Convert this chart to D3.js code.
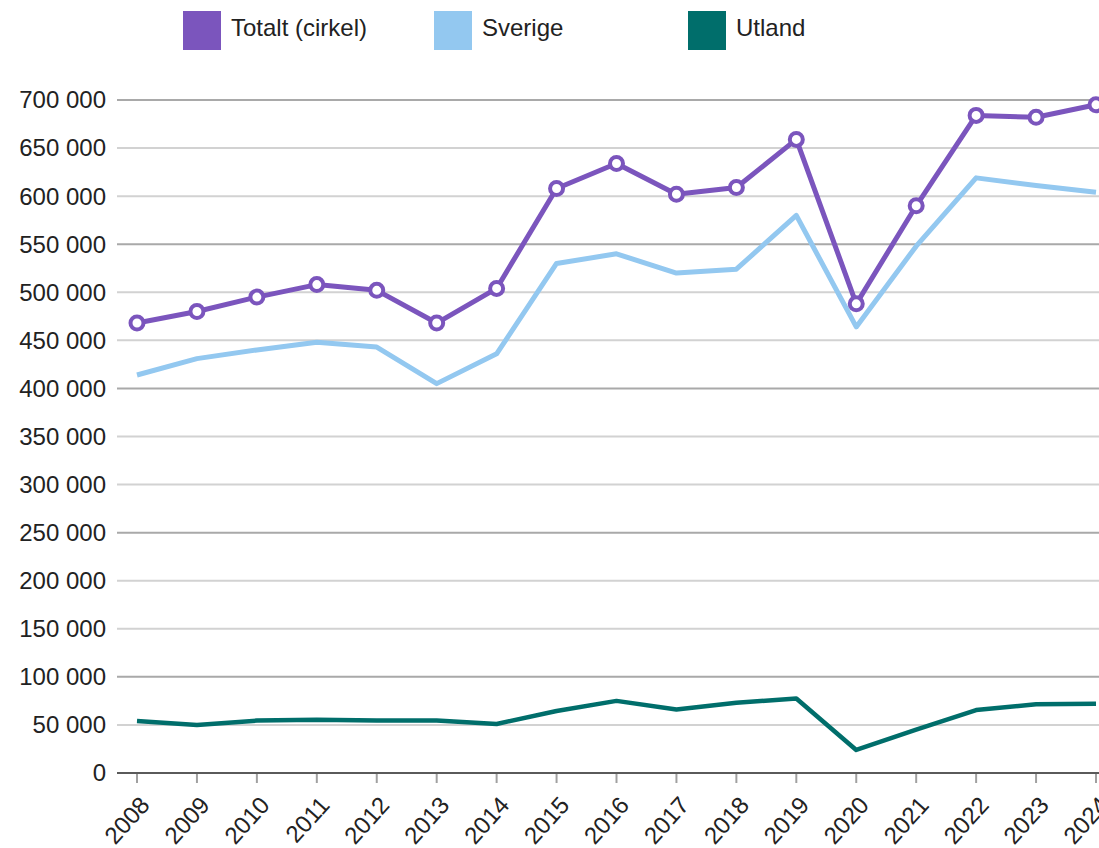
<!DOCTYPE html>
<html>
<head>
<meta charset="utf-8">
<script src="https://cdn.jsdelivr.net/npm/d3@7"></script>
<style>
  body { margin: 0; background: #fff; }
  text { font-family: "Liberation Sans", Arial, sans-serif; fill: #222; }
</style>
</head>
<body>
<div id="chart"></div>
<script>
var years = [2008, 2009, 2010, 2011, 2012, 2013, 2014, 2015, 2016, 2017, 2018, 2019, 2020, 2021, 2022, 2023, 2024];
var totalt = [468000, 480000, 495000, 508000, 502000, 468000, 504000, 608000, 634000, 602000, 609000, 659000, 488000, 590000, 684000, 682000, 695000];
var sverige = [414000, 431000, 440000, 448000, 443000, 405000, 436000, 530000, 540000, 520000, 524000, 580000, 464000, 548000, 619000, 611000, 604000];
var utland = [54000, 50000, 54500, 55500, 54500, 54500, 51000, 64500, 75000, 66000, 73000, 77500, 24000, 45000, 65500, 71500, 72000];
var yTicks = [0, 50000, 100000, 150000, 200000, 250000, 300000, 350000, 400000, 450000, 500000, 550000, 600000, 650000, 700000];
var legendItems = [
    {name: "Totalt (cirkel)", color: "#7b55bd", x: 183},
    {name: "Sverige", color: "#93c8f0", x: 434},
    {name: "Utland", color: "#006e6b", x: 688}
];

(function(){
    var width = 1099;
    var height = 848;

    var svg = d3.select("#chart")
        .append("svg")
        .attr("width", width)
        .attr("height", height)

    var x = d3.scaleLinear().domain([2008, 2024]).range([137, 1096])
    var y = d3.scaleLinear().domain([0, 700000]).range([773, 100])

    var fmt = function(v){
        return d3.format(",")(v).replace(/,/g, " ")
    }

    // grid
    svg.append("g")
        .selectAll("line")
        .data(yTicks.filter(function(d){ return d > 0 }))
        .enter().append("line")
        .attr("x1", 117)
        .attr("x2", width)
        .attr("y1", function(d){ return y(d) })
        .attr("y2", function(d){ return y(d) })
        .attr("stroke", function(d){ return (d / 50000) % 3 == 2 ? "#a9a9a9" : "#d2d2d2" })
        .attr("stroke-width", 2)

    // y labels
    svg.append("g")
        .selectAll("text")
        .data(yTicks)
        .enter().append("text")
        .attr("x", 106)
        .attr("y", function(d){ return y(d) })
        .attr("dy", "0.35em")
        .attr("text-anchor", "end")
        .attr("font-size", 24)
        .text(fmt)

    // x axis
    svg.append("line")
        .attr("x1", 117)
        .attr("x2", width)
        .attr("y1", y(0))
        .attr("y2", y(0))
        .attr("stroke", "#5a5a5a")
        .attr("stroke-width", 2)

    svg.append("g")
        .selectAll("line")
        .data(years)
        .enter().append("line")
        .attr("x1", function(d){ return x(d) })
        .attr("x2", function(d){ return x(d) })
        .attr("y1", y(0) + 1)
        .attr("y2", y(0) + 10)
        .attr("stroke", "#a0a0a0")
        .attr("stroke-width", 2)

    svg.append("g")
        .selectAll("text")
        .data(years)
        .enter().append("text")
        .attr("transform", function(d){
            return "translate(" + (x(d) + 14) + "," + (y(0) + 33) + ") rotate(-48)"
        })
        .attr("text-anchor", "end")
        .attr("font-size", 24)
        .text(function(d){ return d })

    // lines
    var line = function(values){
        return d3.line()
            .x(function(d, i){ return x(years[i]) })
            .y(function(d){ return y(d) })(values)
    }

    svg.append("path")
        .attr("d", line(utland))
        .attr("fill", "none")
        .attr("stroke", legendItems[2].color)
        .attr("stroke-width", 4.5)
        .attr("stroke-linejoin", "round")

    svg.append("path")
        .attr("d", line(sverige))
        .attr("fill", "none")
        .attr("stroke", legendItems[1].color)
        .attr("stroke-width", 5)
        .attr("stroke-linejoin", "round")

    svg.append("path")
        .attr("d", line(totalt))
        .attr("fill", "none")
        .attr("stroke", legendItems[0].color)
        .attr("stroke-width", 5)
        .attr("stroke-linejoin", "round")

    svg.append("g")
        .selectAll("circle")
        .data(totalt)
        .enter().append("circle")
        .attr("cx", function(d, i){ return x(years[i]) })
        .attr("cy", function(d){ return y(d) })
        .attr("r", 6.5)
        .attr("fill", "#fff")
        .attr("stroke", legendItems[0].color)
        .attr("stroke-width", 4)

    // legend
    var legend = svg.append("g")
        .selectAll("g")
        .data(legendItems)
        .enter().append("g")
        .attr("transform", function(d){ return "translate(" + d.x + ",11)" })

    legend.append("rect")
        .attr("width", 38)
        .attr("height", 39)
        .attr("fill", function(d){ return d.color })

    legend.append("text")
        .attr("x", 48)
        .attr("y", 17)
        .attr("dy", "0.35em")
        .attr("font-size", 24)
        .text(function(d){ return d.name })
})();
</script>
</body>
</html>
